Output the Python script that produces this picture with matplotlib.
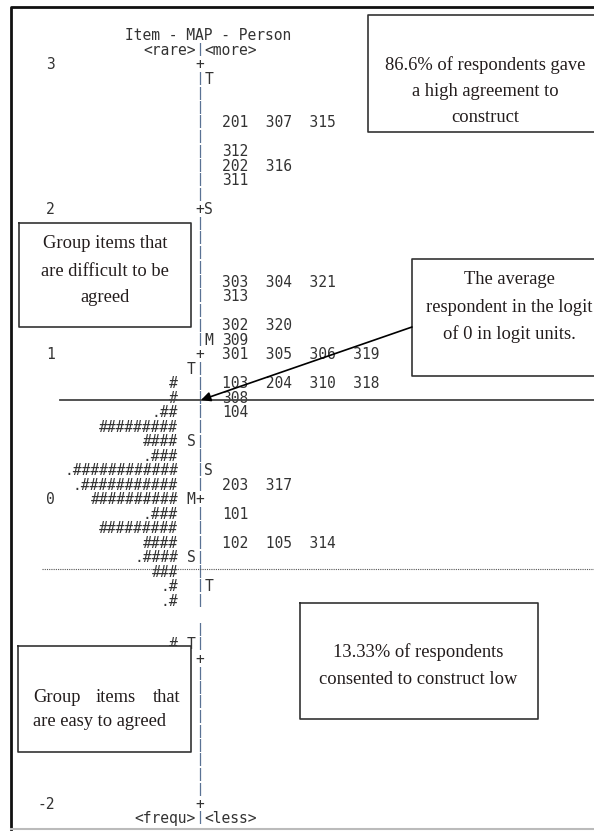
import matplotlib
matplotlib.use('Agg')
import matplotlib.pyplot as plt
from matplotlib.patches import Rectangle
from matplotlib.transforms import Affine2D

# rows of the printed map: row 0 = logit 3, ten rows per logit
tick_rows = [0, 10, 20, 30, 41, 51]
tick_labels = ['3', '2', '1', '0', '-1', '-2']

person_rows = [22, 23, 24, 25, 26, 27, 28, 29, 30, 31, 32, 33, 34, 35, 36, 37, 40]
person_marks = ['#', '#', '.##', '#########', '####', '.###', '.############',
                '.###########', '##########', '.###', '#########', '####',
                '.####', '###', '.#', '.#', '#']

item_rows = [4, 6, 7, 8, 15, 16, 18, 19, 20, 22, 23, 24, 29, 31, 33]
item_labels = [['201', '307', '315'], ['312'], ['202', '316'], ['311'],
               ['303', '304', '321'], ['313'], ['302', '320'], ['309'],
               ['301', '305', '306', '319'], ['103', '204', '310', '318'],
               ['308'], ['104'], ['203', '317'], ['101'], ['102', '105', '314']]

person_stat_rows = [21, 26, 30, 34, 40]
person_stat = ['T', 'S', 'M', 'S', 'T']
item_stat_rows = [1, 10, 19, 28, 36]
item_stat = ['T', 'S', 'M', 'S', 'T']

first_row, last_row = -1, 52
missing_bar_rows = [38]

W, H = 594, 836
X_BAR, CW = 200, 8.8        # px of the "|" column, px per character
Y_TOP, RH = 64, 14.5        # px of row 0, px per row

fig = plt.figure(figsize=(W / 100, H / 100), dpi=100)
ax = fig.add_axes([0, 0, 1, 1])
ax.set_xlim(-X_BAR / CW, (W - X_BAR) / CW)
ax.set_ylim((H - Y_TOP) / RH, -Y_TOP / RH)
ax.axis('off')

PX = Affine2D().scale(1 / W, -1 / H).translate(0, 1) + fig.transFigure

fs = CW / 0.6021 * 0.72
base = 0.37   # baseline below the row centre (rows)
txt = dict(family='DejaVu Sans Mono', fontsize=fs, color='#333333', va='baseline')
bar_col = '#5a7294'

# header
ax.text(-8.5, -2 + base, 'Item - MAP - Person', ha='left', **txt)
ax.text(-0.5, -1 + base, '<rare>', ha='right', **txt)
ax.text(0.5, -1 + base, '<more>', ha='left', **txt)
ax.text(-0.5, 52 + base, '<frequ>', ha='right', **txt)
ax.text(0.5, 52 + base, '<less>', ha='left', **txt)

# central column
for r in range(first_row, last_row + 1):
    if r in missing_bar_rows:
        continue
    if r in tick_rows:
        ax.text(0, r + base, '+', ha='center', **txt)
    else:
        ax.text(0, r, '|', ha='center', va='center', family='DejaVu Sans Mono',
                fontsize=fs * 0.8, color=bar_col, fontweight='bold')

for r, lab in zip(tick_rows, tick_labels):
    ax.text(-16.5, r + base, lab, ha='right', **txt)

for r, m in zip(person_rows, person_marks):
    ax.text(-2.5, r + base, m, ha='right', **txt)

for r, s in zip(person_stat_rows, person_stat):
    ax.text(-1, r + base, s, ha='center', **txt)
for r, s in zip(item_stat_rows, item_stat):
    ax.text(1, r + base, s, ha='center', **txt)

for r, items in zip(item_rows, item_labels):
    ax.text(2.5, r + base, '  '.join(items), ha='left', **txt)

# frame of the screenshot (left, top and bottom edges only)
ax.plot([W, 11, 11], [7, 7, 829], transform=PX, color='#111111', lw=2, zorder=1)
ax.plot([11, W], [829, 829], transform=PX, color='#bbbbbb', lw=1.5, zorder=1)

# reference lines
ax.plot([60, W], [400, 400], transform=PX, color='#444444', lw=1.3, zorder=3)
ax.plot([42, W], [569, 569], transform=PX, color='#555555', lw=0.8,
        ls=(0, (1, 1)), zorder=3)

# annotation boxes (the two on the right run past the edge of the picture)
serif = dict(family='Liberation Serif', fontsize=13.3, color='#221c1c', zorder=6)
boxes = [(368, 15, 260, 117), (19, 223, 172, 104), (412, 259, 220, 117),
         (18, 646, 173, 106), (300, 603, 238, 116)]
for x0, y0, w, h in boxes:
    x1 = min(x0 + w, W)
    ax.add_patch(Rectangle((x0, y0), x1 - x0, h, transform=PX, fc='white',
                           ec='none', zorder=5))
    if x0 + w > W:
        xs, ys = [x1, x0, x0, x1], [y0, y0, y0 + h, y0 + h]
    else:
        xs = [x0, x1, x1, x0, x0]
        ys = [y0, y0, y0 + h, y0 + h, y0]
    ax.plot(xs, ys, transform=PX, color='#333333', lw=1.2, zorder=5.5)

for s, y in zip(['86.6% of respondents gave', 'a high agreement to', 'construct'], [65, 92, 118]):
    ax.text(485, y, s, transform=PX, ha='center', va='center', **serif)
for s, y in zip(['Group items that', 'are difficult to be', 'agreed'], [244, 271, 298]):
    ax.text(105, y, s, transform=PX, ha='center', va='center', **serif)
for s, y in zip(['The average', 'respondent in the logit', 'of 0 in logit units.'], [280, 307, 334]):
    ax.text(509, y, s, transform=PX, ha='center', va='center', **serif)
for s, y in zip(['13.33% of respondents', 'consented to construct low'], [652, 679]):
    ax.text(418, y, s, transform=PX, ha='center', va='center', **serif)
ax.text(33, 697, 'Group', transform=PX, ha='left', va='center', **serif)
ax.text(116, 697, 'items', transform=PX, ha='center', va='center', **serif)
ax.text(180, 697, 'that', transform=PX, ha='right', va='center', **serif)
ax.text(33, 722, 'are easy to agreed', transform=PX, ha='left', va='center', **serif)

ax.annotate('', xy=(201, 400), xytext=(412, 327), xycoords=PX, textcoords=PX,
            arrowprops=dict(arrowstyle='-|>', color='black', lw=1.2,
                            mutation_scale=14, shrinkA=0, shrinkB=0), zorder=7)

fig.savefig('out.png', dpi=100)
